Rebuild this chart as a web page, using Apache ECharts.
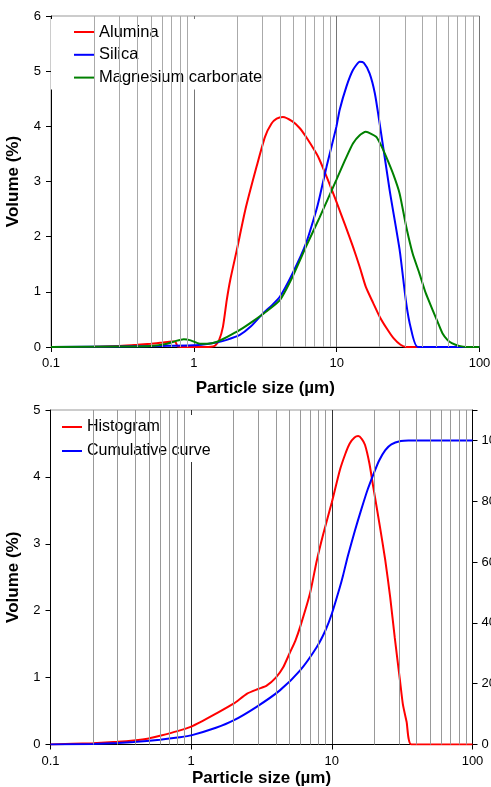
<!DOCTYPE html>
<html>
<head>
<meta charset="utf-8">
<script src="https://cdn.jsdelivr.net/npm/echarts@6/dist/echarts.min.js"></script>
<style>
  html, body { margin: 0; padding: 0; background: #fff; }
  #main { width: 491px; height: 787px; }
</style>
</head>
<body>
<div id="main"></div>
<script>
// volume (%) against particle size (um)
const alumina = [[0.1, 0], [0.2, 0.005], [0.3, 0.02], [0.4, 0.04], [0.5, 0.06], [0.6, 0.08], [0.7, 0.1], [0.74, 0.1],
  [0.77, 0.01], [0.85, 0], [1.0, 0], [1.2, 0], [1.4, 0.02], [1.5, 0.12], [1.6, 0.37], [1.7, 0.85], [1.8, 1.22],
  [2.0, 1.76], [2.3, 2.5], [2.75, 3.27], [3.15, 3.81], [3.5, 4.05], [3.8, 4.14], [4.2, 4.17], [4.9, 4.09],
  [5.5, 3.97], [6.1, 3.81], [7.2, 3.51], [7.6, 3.39], [8.5, 3.09], [10, 2.62], [11.5, 2.2], [13, 1.82],
  [14.5, 1.45], [16, 1.09], [18, 0.8], [20, 0.55], [22.5, 0.33], [25, 0.16], [28, 0.04], [30.7, 0], [40, 0], [100, 0]];
const silica = [[0.1, 0], [0.3, 0.01], [0.6, 0.02], [1.0, 0.03], [1.2, 0.05], [1.44, 0.08], [1.7, 0.13], [2.1, 0.22],
  [2.5, 0.37], [3.05, 0.61], [3.5, 0.75], [4.0, 0.91], [4.9, 1.33], [6.1, 1.88], [7.2, 2.48], [7.6, 2.72],
  [8.5, 3.27], [9.95, 3.99], [10.5, 4.3], [11.7, 4.72], [13, 5.02], [14.5, 5.17], [15.5, 5.15], [17, 4.96],
  [18.5, 4.6], [20, 4.05], [23.5, 2.84], [27.6, 1.76], [30.7, 0.79], [33, 0.35], [37, 0], [100, 0]];
const magnesium = [[0.1, 0], [0.3, 0.01], [0.5, 0.02], [0.65, 0.06], [0.75, 0.11], [0.85, 0.14], [0.95, 0.12],
  [1.1, 0.06], [1.25, 0.06], [1.44, 0.09], [1.7, 0.18], [2.1, 0.31], [2.6, 0.47], [3.2, 0.64], [4.0, 0.85],
  [4.9, 1.27], [6.1, 1.82], [7.6, 2.35], [9.95, 3.03], [11.5, 3.4], [13, 3.69], [14.5, 3.84], [16, 3.9],
  [18.9, 3.81], [20.5, 3.65], [22.2, 3.45], [25, 3.12], [27.6, 2.78], [30.7, 2.18], [34, 1.7], [38, 1.33],
  [42, 0.98], [47, 0.67], [51, 0.45], [55, 0.25], [60, 0.12], [64, 0.07], [72, 0.02], [81, 0], [100, 0]];

const histogram = [[0.1, 0], [0.2, 0.02], [0.3, 0.04], [0.39, 0.06], [0.5, 0.09], [0.6, 0.13], [0.8, 0.2],
  [0.98, 0.26], [1.2, 0.35], [1.5, 0.46], [2.0, 0.61], [2.5, 0.76], [3.0, 0.83], [3.44, 0.88], [4.0, 1.0],
  [4.5, 1.15], [5.0, 1.36], [5.5, 1.55], [6.0, 1.78], [7.0, 2.26], [7.8, 2.74], [8.7, 3.15], [10, 3.62],
  [11.4, 4.1], [12.5, 4.35], [13.4, 4.5], [14.5, 4.59], [15.4, 4.61], [16.3, 4.57], [17.2, 4.48], [18.5, 4.2],
  [19.7, 3.85], [22, 3.25], [24, 2.75], [26, 2.2], [28, 1.6], [30.5, 0.96], [32, 0.6], [34, 0.34], [36.8, 0], [100, 0]];
// cumulative %, right axis
const cumulative = [[0.1, 0], [0.2, 0.2], [0.3, 0.5], [0.39, 0.8], [0.6, 1.6], [0.83, 2.4], [1.0, 3.0], [1.5, 5.5],
  [2.0, 7.9], [2.9, 12.3], [4.27, 17.8], [5.93, 24.3], [7.8, 32.0], [9.0, 37.5], [10, 43.0], [11.4, 51.7],
  [12, 55.5], [13, 62], [14.6, 70.4], [16, 76.5], [17.9, 83.6], [20, 89.5], [21.7, 93.4], [24, 96.8],
  [26.5, 98.7], [30.9, 99.8], [35, 100], [100, 100]];

const minorGrid = [0.2, 0.3, 0.4, 0.5, 0.6, 0.7, 0.8, 0.9, 2, 3, 4, 5, 6, 7, 8, 9, 20, 30, 40, 50, 60, 70, 80, 90];
const topNames = ['Alumina', 'Silica', 'Magnesium carbonate'];
const bottomNames = ['Histogram', 'Cumulative curve'];

const font = '"Liberation Sans", Arial, sans-serif';
const chart = echarts.init(document.getElementById('main'), null, { renderer: 'canvas' });

function xAxis(idx, gap, decadeColor) {
  return {
    type: 'log', logBase: 10, min: 0.1, max: 100, gridIndex: idx,
    name: 'Particle size (µm)', nameLocation: 'middle', nameGap: gap,
    nameTextStyle: { fontFamily: font, fontWeight: 'bold', fontSize: 17, color: '#000' },
    axisLine: { lineStyle: { color: '#000', width: 1 } },
    axisTick: { show: true, length: 5, lineStyle: { color: '#000' } },
    axisLabel: { fontFamily: font, fontSize: 13, color: '#000', margin: 10 },
    splitLine: { show: true, lineStyle: { color: decadeColor, width: 1 } }
  };
}

function yAxis(idx, max, interval) {
  return {
    type: 'value', gridIndex: idx, min: 0, max: max, interval: interval,
    name: 'Volume (%)', nameLocation: 'middle', nameGap: 29,
    nameTextStyle: { fontFamily: font, fontWeight: 'bold', fontSize: 17, color: '#000' },
    axisLine: { show: true, lineStyle: { color: '#000' } },
    axisTick: { show: true, length: 5, lineStyle: { color: '#000' } },
    axisLabel: { fontFamily: font, fontSize: 13, color: '#000', margin: 10 },
    splitLine: { show: false }
  };
}

function curve(name, data, color, xi, yi) {
  return {
    name: name, type: 'line', data: data, xAxisIndex: xi, yAxisIndex: yi,
    symbol: 'none', smooth: 0.2, z: 3, animation: false,
    lineStyle: { color: color, width: 2 }, itemStyle: { color: color }
  };
}

// thin vertical lines at 2..9 of each decade
function minorLines(xi, yi, color) {
  return {
    name: 'grid' + xi, type: 'line', data: [], xAxisIndex: xi, yAxisIndex: yi, z: 1, animation: false,
    markLine: {
      silent: true, symbol: 'none', label: { show: false }, animation: false,
      lineStyle: { color: color, width: 1, type: 'solid' },
      data: minorGrid.map(v => ({ xAxis: v }))
    }
  };
}

const legendText = { fontFamily: font, fontSize: 16, color: '#000', lineHeight: 18 };

chart.setOption({
  animation: false,
  backgroundColor: '#fff',
  grid: [
    { left: 51, right: 11.5, top: 16, height: 331, show: true, borderColor: '#999', borderWidth: 1,
      outerBoundsMode: 'none', containLabel: false },
    { left: 50.5, right: 18.5, top: 410, height: 334.5, show: true, borderColor: '#999', borderWidth: 1,
      outerBoundsMode: 'none', containLabel: false }
  ],
  legend: [
    {
      data: topNames, orient: 'vertical', left: 51, top: 19, selectedMode: false, icon: 'rect',
      backgroundColor: '#fff', padding: [4, 3, 3, 23], itemWidth: 20, itemHeight: 2, itemGap: 4.8,
      textStyle: Object.assign({}, legendText, { fontSize: 16.5 })
    },
    {
      data: bottomNames, orient: 'vertical', left: 51, top: 415, selectedMode: false, icon: 'rect',
      backgroundColor: '#fff', padding: [3, 28, 2, 11], itemWidth: 20, itemHeight: 2, itemGap: 6,
      textStyle: legendText
    }
  ],
  xAxis: [xAxis(0, 33, '#777'), xAxis(1, 25, '#333')],
  yAxis: [
    yAxis(0, 6, 1),
    yAxis(1, 5, 1),
    {
      type: 'value', gridIndex: 1, position: 'right', min: 0, max: 110, interval: 20,
      axisLine: { show: true, lineStyle: { color: '#000' } },
      axisTick: { show: true, length: 5, lineStyle: { color: '#000' } },
      axisLabel: { fontFamily: font, fontSize: 13, color: '#000', margin: 9,
        formatter: v => (v > 100 ? '' : v) },
      splitLine: { show: false }
    }
  ],
  series: [
    minorLines(0, 0, '#aaa'),
    curve('Alumina', alumina, '#ff0000', 0, 0),
    curve('Silica', silica, '#0000ff', 0, 0),
    curve('Magnesium carbonate', magnesium, '#008000', 0, 0),
    minorLines(1, 1, '#999'),
    curve('Histogram', histogram, '#ff0000', 1, 1),
    curve('Cumulative curve', cumulative, '#0000ff', 1, 2)
  ]
});
</script>
</body>
</html>
